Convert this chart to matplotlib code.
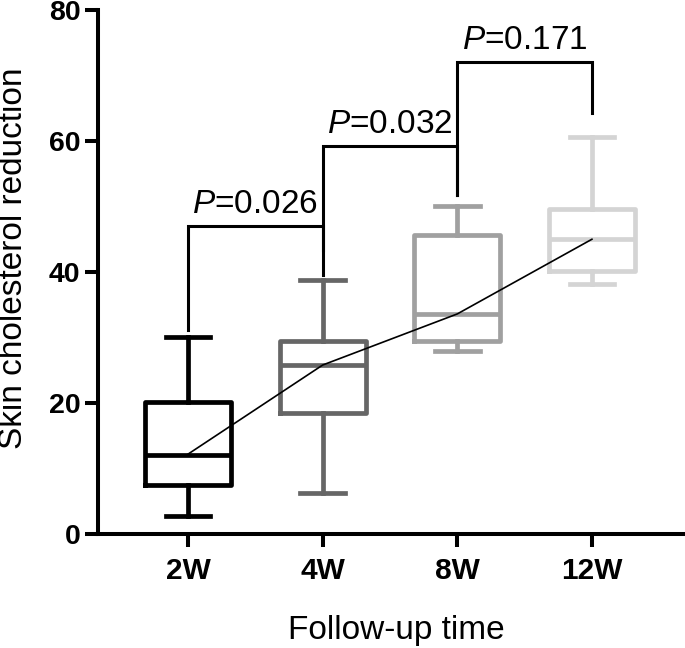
import matplotlib
matplotlib.use("Agg")
import matplotlib.pyplot as plt

plt.rcParams['font.family'] = ['Liberation Sans', 'DejaVu Sans']
plt.rcParams['mathtext.fontset'] = 'custom'
plt.rcParams['mathtext.it'] = 'Liberation Sans:italic'
plt.rcParams['mathtext.rm'] = 'Liberation Sans'

# ---- data ----
categories = ['2W', '4W', '8W', '12W']
whislo = [2.7, 6.2, 28.0, 38.2]
q1 = [7.5, 18.5, 29.4, 40.2]
med = [12.1, 25.8, 33.6, 45.0]
q3 = [20.1, 29.4, 45.7, 49.6]
whishi = [30.1, 38.8, 50.1, 60.6]
trend = [12.2, 25.8, 33.6, 45.0]
box_colors = ['#000000', '#666666', '#a0a0a0', '#d4d4d4']

# significance brackets: (left group, right group, top, left leg bottom, right leg bottom, label)
br_left = [0, 1, 2]
br_right = [1, 2, 3]
br_top = [47.0, 59.2, 72.0]
br_lbot = [31.2, 39.6, 51.7]
br_rbot = [43.4, 51.7, 64.2]
br_text = ['0.026', '0.032', '0.171']

fig = plt.figure(figsize=(6.85, 6.48), dpi=100)
ax = fig.add_axes([97.5/685, 1-534/648, (684-97.5)/685, (534-10)/648])

pos = [1, 2, 3, 4]
for i in range(4):
    st = [dict(whislo=whislo[i], q1=q1[i], med=med[i], q3=q3[i], whishi=whishi[i], fliers=[])]
    c = box_colors[i]
    lw = 3.4
    ax.bxp(st, positions=[pos[i]], widths=0.64, capwidths=0.33, showfliers=False,
           boxprops=dict(color=c, linewidth=lw, solid_joinstyle='round'),
           medianprops=dict(color=c, linewidth=lw),
           whiskerprops=dict(color=c, linewidth=lw),
           capprops=dict(color=c, linewidth=lw),
           manage_ticks=False)

ax.plot(pos, trend, color='black', linewidth=1.2, zorder=5)

for l, r, t, lb, rb, txt in zip(br_left, br_right, br_top, br_lbot, br_rbot, br_text):
    xl, xr = pos[l], pos[r]
    ax.plot([xl, xl, xr, xr], [lb, t, t, rb], color='black', linewidth=2.2,
            solid_joinstyle='miter', zorder=6)
    ax.text((xl + xr) / 2, t + 2.0, r'$\mathit{P}$=' + txt, ha='center', va='baseline',
            fontsize=24)

ax.set_xlim(0.327, 4.684)
ax.set_ylim(0, 80)
ax.set_xticks(pos)
ax.set_xticklabels(categories, fontsize=21.5, fontweight='bold')
ax.set_yticks([0, 20, 40, 60, 80])
ax.set_yticklabels(['0', '20', '40', '60', '80'], fontsize=20.5, fontweight='bold')
ax.tick_params(axis='both', length=9.4, width=2.9, direction='out')
ax.tick_params(axis='y', pad=3)
ax.tick_params(axis='x', pad=7)
for s in ['top', 'right']:
    ax.spines[s].set_visible(False)
for s in ['left', 'bottom']:
    ax.spines[s].set_linewidth(2.9)

fig.text(14/685, 1 - 258/648, 'Skin cholesterol reduction', rotation=90,
         ha='center', va='center', fontsize=24)
fig.text(396/685, 1 - 639/648, 'Follow-up time', ha='center', va='baseline', fontsize=24)

fig.savefig('out.png', dpi=100)
